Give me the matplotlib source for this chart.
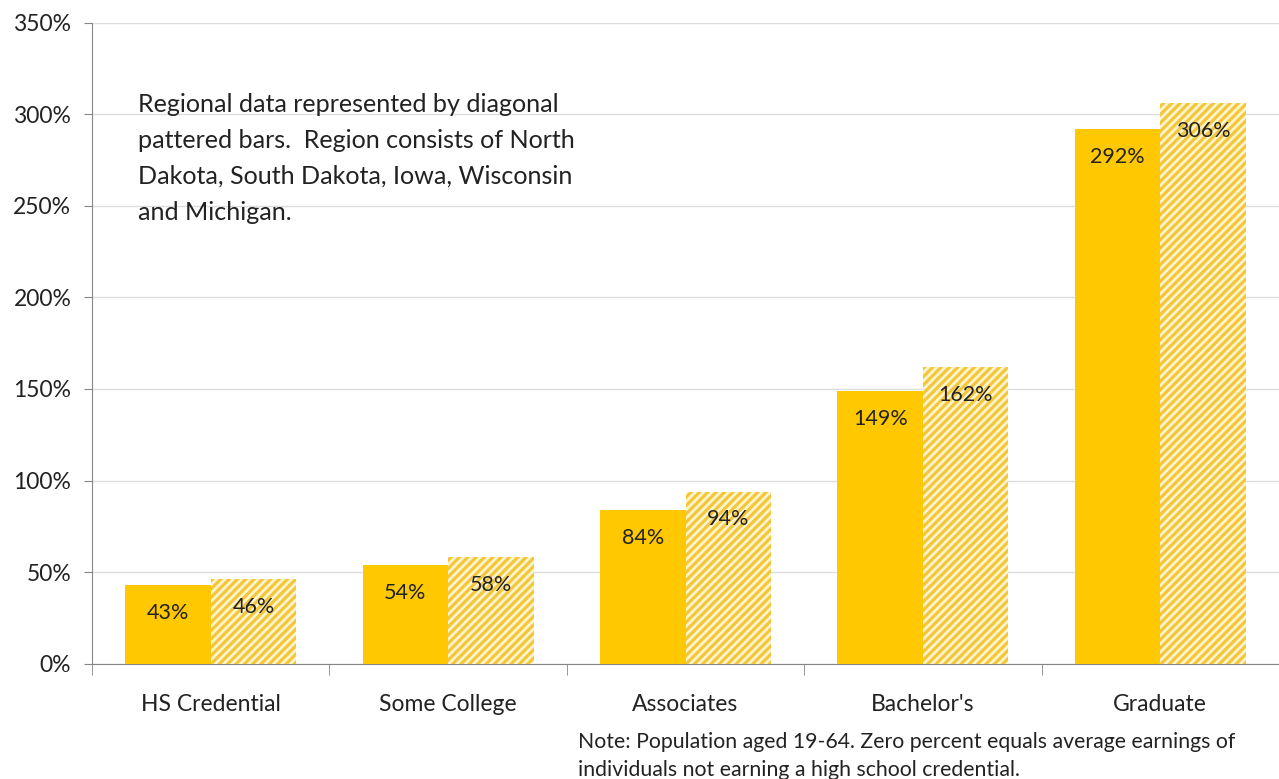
import numpy as np
import matplotlib.pyplot as plt
from matplotlib.ticker import FuncFormatter

# Datos
categorias = ["HS Credential", "Some College", "Associates", "Bachelor's", "Graduate"]
estado = [43, 54, 84, 149, 292]
region = [46, 58, 94, 162, 306]

plt.rcParams['font.family'] = ['Lato', 'DejaVu Sans']
plt.rcParams['hatch.linewidth'] = 2.3

oro = '#FFC800'
texto = '#222222'

fig = plt.figure(figsize=(12.79, 7.79), dpi=100)
ax = fig.add_axes([0.072, 0.148, 0.928, 0.823])

x = np.arange(len(categorias))
w = 0.36
b1 = ax.bar(x - w / 2, estado, w, color=oro, zorder=3)
# Barras regionales con rayado diagonal
b2 = ax.bar(x + w / 2, region, w, color='#FFF4CF', edgecolor='#F3C73A',
            linewidth=0, hatch='////', zorder=3)

for rect, v in zip(list(b1) + list(b2), estado + region):
    ax.annotate(f"{v}%", (rect.get_x() + rect.get_width() / 2, rect.get_height()),
                xytext=(0, -20), textcoords='offset points', ha='center', va='center',
                fontsize=15.5, color=texto, zorder=4)

ax.set_ylim(0, 350)
ax.set_xlim(-0.5, 4.5)
ax.set_yticks(np.arange(0, 351, 50))
ax.yaxis.set_major_formatter(FuncFormatter(lambda v, p: f"{v:.0f}%"))
ax.grid(axis='y', color='#DDDDDD', linewidth=1, zorder=0)

ax.set_xticks(x)
ax.set_xticklabels(categorias)
ax.set_xticks(np.arange(-0.5, 5, 1), minor=True)
ax.tick_params(axis='x', which='major', length=0, pad=22, labelsize=16.5, labelcolor=texto)
ax.tick_params(axis='x', which='minor', length=8, color='#868686', direction='out')
ax.tick_params(axis='y', length=6, color='#868686', labelsize=16.5, labelcolor=texto, pad=9)

for s in ['top', 'right']:
    ax.spines[s].set_visible(False)
ax.spines['left'].set_color('#868686')
ax.spines['bottom'].set_color('#868686')

# Nota sobre la región
ax.text(-0.306, 276, "Regional data represented by diagonal\npattered bars.  Region consists of North\n"
        "Dakota, South Dakota, Iowa, Wisconsin\nand Michigan.",
        fontsize=18.1, color=texto, va='center', ha='left', linespacing=1.68)

fig.text(578 / 1279, 1 - 756 / 779,
         "Note: Population aged 19-64. Zero percent equals average earnings of\n"
         "individuals not earning a high school credential.",
         fontsize=15.3, color=texto, ha='left', va='center', linespacing=1.55)

fig.savefig("out.png", dpi=100)
